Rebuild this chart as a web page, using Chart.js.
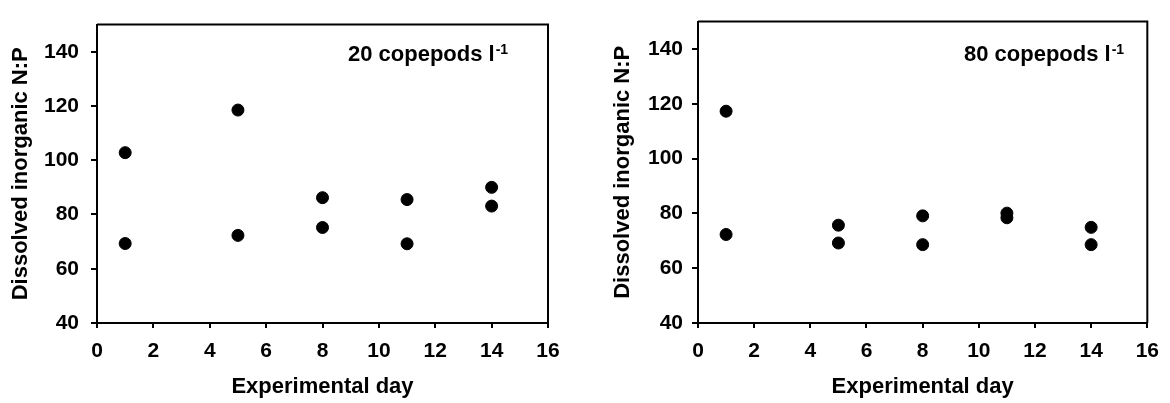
<!DOCTYPE html>
<html>
<head>
<meta charset="utf-8">
<script src="https://cdn.jsdelivr.net/npm/chart.js@4"></script>
<style>
  body { margin: 0; background: #fff; }
  .panel { position: absolute; top: 0; width: 585px; height: 403px; }
</style>
</head>
<body>
<div class="panel" style="left:0"><canvas id="chart20" width="585" height="403"></canvas></div>
<div class="panel" style="left:585px"><canvas id="chart80" width="585" height="403"></canvas></div>
<script>
// experimental days sampled
var days = [1, 5, 8, 11, 14];

// 20 copepods per litre, two replicates
var np20a = [102.8, 118.5, 86.2, 85.5, 90.0];
var np20b = [69.3, 72.3, 75.2, 69.2, 83.1];

// 80 copepods per litre, two replicates
var np80a = [117.3, 75.7, 79.1, 80.1, 74.9];
var np80b = [72.3, 69.2, 68.6, 78.4, 68.6];

var yTicks = [40, 60, 80, 100, 120, 140];
var xTicks = [0, 2, 4, 6, 8, 10, 12, 14, 16];

var FONT = '"Liberation Sans", Arial, sans-serif';

function toPoints(xs, ys) {
    return xs.map(function (x, i) { return { x: x, y: ys[i] }; });
}

// top and right edges of the box, plus the label inside the plot
var framePlugin = {
    id: 'frame',
    afterDraw: function (chart, args, opts) {
        var ctx = chart.ctx;
        var a = chart.chartArea;
        ctx.save();
        ctx.strokeStyle = '#000';
        ctx.lineWidth = 2;
        ctx.beginPath();
        ctx.moveTo(a.left, a.top);
        ctx.lineTo(a.right, a.top);
        ctx.lineTo(a.right, a.bottom);
        ctx.stroke();

        ctx.fillStyle = '#000';
        ctx.textBaseline = 'alphabetic';
        ctx.textAlign = 'left';
        ctx.font = 'bold 22px ' + FONT;
        var x = a.left + opts.labelX;
        var y = opts.labelY;
        ctx.fillText(opts.text, x, y);
        var w = ctx.measureText(opts.text).width;
        ctx.font = 'bold 14px ' + FONT;
        ctx.fillText('-1', x + w + 1, y - 7);
        ctx.restore();
    }
};

function makeChart(id, seriesA, seriesB, o) {
    var ctx = document.getElementById(id).getContext('2d');
    return new Chart(ctx, {
        type: 'scatter',
        data: {
            datasets: [
                { data: toPoints(days, seriesA), backgroundColor: '#000', borderColor: '#000', pointRadius: 6, pointHoverRadius: 6 },
                { data: toPoints(days, seriesB), backgroundColor: '#000', borderColor: '#000', pointRadius: 6, pointHoverRadius: 6 }
            ]
        },
        options: {
            responsive: false,
            animation: false,
            events: [],
            layout: { padding: { left: 0, top: 7, right: o.padRight, bottom: 0 } },
            plugins: {
                legend: { display: false },
                tooltip: { enabled: false },
                frame: { text: o.text, labelX: o.labelX, labelY: 61 }
            },
            scales: {
                x: {
                    type: 'linear',
                    min: 0,
                    max: 16,
                    afterFit: function (s) { s.height = 80; },
                    afterBuildTicks: function (s) { s.ticks = xTicks.map(function (v) { return { value: v }; }); },
                    border: { display: true, color: '#000', width: 2 },
                    grid: { drawOnChartArea: false, drawTicks: true, tickLength: 5, color: '#000', lineWidth: 2 },
                    ticks: { color: '#000', padding: 11, font: { family: FONT, size: 21, weight: 'bold' } },
                    title: {
                        display: true,
                        text: 'Experimental day',
                        color: '#000',
                        padding: { top: 0, bottom: 3 },
                        font: { family: FONT, size: 22, weight: 'bold', lineHeight: 1.2 }
                    }
                },
                y: {
                    type: 'linear',
                    min: 40,
                    max: 150,
                    afterFit: function (s) { s.width = o.yWidth; },
                    afterBuildTicks: function (s) { s.ticks = yTicks.map(function (v) { return { value: v }; }); },
                    border: { display: true, color: '#000', width: 2 },
                    grid: { drawOnChartArea: false, drawTicks: true, tickLength: 6, color: '#000', lineWidth: 2 },
                    ticks: { color: '#000', padding: o.tickPad, font: { family: FONT, size: 21, weight: 'bold' } },
                    title: {
                        display: true,
                        text: 'Dissolved inorganic N:P',
                        color: '#000',
                        padding: { top: o.titlePad, bottom: 0 },
                        font: { family: FONT, size: 22, weight: 'bold', lineHeight: 1.2 }
                    }
                }
            }
        },
        plugins: [framePlugin]
    });
}

makeChart('chart20', np20a, np20b, { text: '20 copepods l', labelX: 251, padRight: 37, yWidth: 97, tickPad: 12, titlePad: 8 });
makeChart('chart80', np80a, np80b, { text: '80 copepods l', labelX: 266, padRight: 22, yWidth: 113, tickPad: 9, titlePad: 25 });
</script>
</body>
</html>
